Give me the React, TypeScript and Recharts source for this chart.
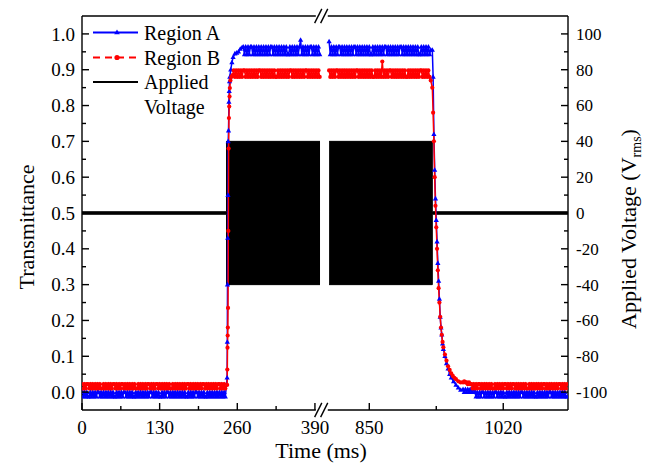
import React from 'react';
import { ComposedChart, Line, Area, XAxis, YAxis, ReferenceLine } from 'recharts';

const FONT = '"Liberation Serif", "Times New Roman", serif';
const BLUE = '#0000ff';
const RED = '#ff0000';

// ---- broken time axis: left segment in ms, right segment rescaled ----
const U_850 = 481.0;
const RIGHT_RATIO = 1.3193;
const U_MAX = 813.7;
const toU = (t: number) => (t < 600 ? t : U_850 + RIGHT_RATIO * (t - 850));

// ---- tick labels ----
const xMajorTimes = [0, 130, 260, 390, 850, 1020];
const xMinorTimes = [65, 195, 325, 935];
const yLeftMajor = [0, 0.1, 0.2, 0.3, 0.4, 0.5, 0.6, 0.7, 0.8, 0.9, 1.0];
const yLeftMinor = [0.05, 0.15, 0.25, 0.35, 0.45, 0.55, 0.65, 0.75, 0.85, 0.95];
const yRightMajor = [-100, -80, -60, -40, -20, 0, 20, 40, 60, 80, 100];
const yRightMinor = [-90, -70, -50, -30, -10, 10, 30, 50, 70, 90];

// ---- Region A (transmittance) ----
const aBaseLeft = [
  0, -0.013, 0, -0.013, 0, -0.013, -0.013, 0, -0.013, 0,
  -0.013, 0, -0.013, 0, 0, -0.013, 0, -0.013, 0, -0.013,
  0, -0.013, 0, -0.013, 0, -0.013, 0, -0.013, -0.013, 0,
  -0.013, 0, -0.013, 0, -0.013, 0, 0, -0.013, 0, -0.013,
  0, -0.013, 0, -0.013, -0.013, 0, -0.013, 0, -0.013, 0,
  -0.013, 0, -0.013, 0, -0.013, 0, -0.013, 0, 0, -0.013,
  0, -0.013, 0, -0.013, 0, -0.013, -0.013, 0, -0.013, 0,
  -0.013, 0, 0, -0.013, 0, -0.013, 0, -0.013, 0, -0.013,
  0, -0.013, 0, -0.013, 0, -0.013, 0, -0.013, -0.013, 0,
  -0.013, 0, -0.013, 0, -0.013, 0, 0, -0.013, 0, -0.013,
  0, -0.013, 0, -0.013, -0.013, 0, -0.013, 0, -0.013, 0,
  -0.013, 0, -0.013, 0, -0.013, 0, -0.013, 0, -0.013, 0,
  -0.013,
]; // t = 0..240 step 2
const aRiseT = [243, 243.3, 243.6, 244, 244.4, 244.8, 245.3, 246, 246.5, 247, 247.5, 249, 251, 253, 256, 259, 262, 265, 268];
const aRiseV = [0.04, 0.14, 0.3, 0.43, 0.55, 0.7, 0.73, 0.81, 0.84, 0.867, 0.88, 0.9, 0.92, 0.935, 0.945, 0.947, 0.95, 0.958, 0.962];
const aPlateauLeft = [
  0.964, 0.943, 0.964, 0.943, 0.964, 0.943, 0.964, 0.964, 0.943, 0.964,
  0.943, 0.964, 0.943, 0.964, 0.943, 0.964, 0.943, 0.964, 0.943, 0.964,
  0.943, 0.964, 0.943, 0.964, 0.964, 0.943, 0.964, 0.943, 0.964, 0.943,
  0.964, 0.943, 0.964, 0.943, 0.964, 0.943, 0.964, 0.943, 0.943, 0.964,
  0.943, 0.964, 0.943, 0.964, 0.943, 0.964, 0.943, 0.964, 0.983, 0.943,
  0.964, 0.943, 0.964, 0.943, 0.964, 0.943, 0.964, 0.964, 0.943, 0.964,
  0.943, 0.964, 0.943, 0.964, 0.943,
]; // t = 270..398 step 2
const aPlateauRight = [
  0.979, 0.943, 0.964, 0.943, 0.964, 0.943, 0.964, 0.943, 0.964, 0.964,
  0.943, 0.964, 0.943, 0.964, 0.943, 0.964, 0.943, 0.964, 0.943, 0.964,
  0.943, 0.964, 0.964, 0.943, 0.964, 0.943, 0.964, 0.943, 0.964, 0.943,
  0.964, 0.943, 0.964, 0.943, 0.964, 0.943, 0.943, 0.964, 0.943, 0.964,
  0.943, 0.964, 0.943, 0.964, 0.943, 0.964, 0.943, 0.964, 0.964, 0.943,
  0.964, 0.943, 0.964, 0.943, 0.964, 0.943, 0.964, 0.943, 0.964, 0.943,
  0.964, 0.964, 0.943, 0.964, 0.943, 0.964, 0.943, 0.964, 0.943, 0.964,
  0.943, 0.964, 0.943, 0.964, 0.943, 0.964, 0.943, 0.943, 0.964, 0.943,
  0.964, 0.943, 0.964, 0.943, 0.964, 0.943, 0.955,
]; // t = 799..928 step 1.5
const aFallT = [930, 931, 932, 933, 934, 935, 936, 937, 938, 939, 940, 941, 942, 943, 944, 946, 948, 950, 952, 954, 957, 960, 963, 966];
const aFallV = [0.955, 0.88, 0.72, 0.62, 0.54, 0.48, 0.42, 0.36, 0.31, 0.26, 0.21, 0.18, 0.16, 0.135, 0.12, 0.1, 0.08, 0.065, 0.05, 0.04, 0.03, 0.02, 0.012, 0.006];
const aTailRight = [
  0.008, 0, 0.008, 0, 0.008, 0, 0.008, 0, 0, 0.008,
  0, -0.013, 0, -0.013, 0, -0.013, 0, 0, -0.013, 0,
  -0.013, 0, -0.013, 0, -0.013, 0, -0.013, 0, 0, -0.013,
  0, -0.013, 0, -0.013, 0, -0.013, -0.013, 0, -0.013, 0,
  -0.013, 0, -0.013, 0, -0.013, 0, -0.013, 0, -0.013, 0,
  0, -0.013, 0, -0.013, 0, -0.013, 0, -0.013, 0, -0.013,
  0, -0.013, -0.013, 0, -0.013, 0, -0.013, 0, -0.013, 0,
  -0.013, 0, -0.013, 0, 0, -0.013, 0, -0.013, 0, -0.013,
  0, -0.013, 0, -0.013, 0, -0.013, 0, -0.013, -0.013,
]; // t = 969..1101 step 1.5

// ---- Region B (transmittance) ----
const bBaseLeft = [
  0.022, 0.01, 0.022, 0.01, 0.022, 0.022, 0.01, 0.022, 0.01, 0.022,
  0.01, 0.022, 0.01, 0.022, 0.01, 0.022, 0.01, 0.01, 0.022, 0.01,
  0.022, 0.01, 0.022, 0.01, 0.022, 0.01, 0.022, 0.022, 0.01, 0.022,
  0.01, 0.022, 0.01, 0.022, 0.022, 0.01, 0.022, 0.01, 0.022, 0.01,
  0.022, 0.01, 0.022, 0.01, 0.022, 0.01, 0.01, 0.022, 0.01, 0.022,
  0.01, 0.022, 0.01, 0.022, 0.01, 0.022, 0.022, 0.01, 0.022, 0.01,
  0.022, 0.01, 0.022, 0.022, 0.01, 0.022, 0.01, 0.022, 0.01, 0.022,
  0.01, 0.022, 0.01, 0.022, 0.01, 0.01, 0.022, 0.01, 0.022, 0.01,
  0.022, 0.01, 0.022, 0.01, 0.022, 0.01, 0.022, 0.01, 0.022, 0.022,
  0.01, 0.022, 0.01, 0.022, 0.01, 0.022, 0.01, 0.022, 0.01, 0.022,
  0.01, 0.022, 0.022, 0.01, 0.022, 0.01, 0.022, 0.01, 0.022, 0.01,
  0.022, 0.01, 0.022, 0.01, 0.022, 0.022, 0.01, 0.022, 0.01, 0.022,
  0.01,
]; // t = 0..240 step 2
const bRiseT = [243, 243.3, 243.6, 243.9, 244.2, 244.5, 245, 245.5, 246, 246.5, 247, 247.5, 248.5, 250, 252];
const bRiseV = [0.02, 0.063, 0.124, 0.158, 0.18, 0.235, 0.45, 0.68, 0.765, 0.797, 0.825, 0.849, 0.87, 0.88, 0.885];
const bPlateauLeft = [
  0.898, 0.88, 0.898, 0.88, 0.898, 0.88, 0.898, 0.88, 0.898, 0.898,
  0.88, 0.898, 0.88, 0.898, 0.88, 0.898, 0.88, 0.898, 0.88, 0.898,
  0.88, 0.898, 0.898, 0.88, 0.898, 0.88, 0.898, 0.88, 0.898, 0.88,
  0.898, 0.88, 0.898, 0.88, 0.898, 0.88, 0.88, 0.898, 0.88, 0.898,
  0.88, 0.898, 0.88, 0.898, 0.88, 0.898, 0.88, 0.898, 0.898, 0.88,
  0.898, 0.88, 0.898, 0.88, 0.898, 0.88, 0.898, 0.88, 0.898, 0.88,
  0.898, 0.898, 0.88, 0.898, 0.88, 0.898, 0.88, 0.898, 0.88, 0.898,
  0.88, 0.898, 0.88,
]; // t = 254..398 step 2
const bPlateauRight = [
  0.898, 0.88, 0.898, 0.88, 0.898, 0.88, 0.898, 0.898, 0.88, 0.898,
  0.88, 0.898, 0.88, 0.898, 0.88, 0.898, 0.88, 0.898, 0.88, 0.898,
  0.88, 0.898, 0.88, 0.898, 0.898, 0.88, 0.898, 0.88, 0.898, 0.88,
  0.898, 0.88, 0.898, 0.88, 0.898, 0.88, 0.898, 0.88, 0.88, 0.898,
  0.88, 0.898, 0.88, 0.898, 0.88, 0.923, 0.88, 0.898, 0.88, 0.898,
  0.88, 0.898, 0.898, 0.88, 0.898, 0.88, 0.898, 0.88, 0.898, 0.88,
  0.898, 0.88, 0.898, 0.88, 0.898, 0.88, 0.88, 0.898, 0.88, 0.898,
  0.88, 0.898, 0.88, 0.898, 0.88, 0.898, 0.88, 0.898, 0.898, 0.88,
  0.898, 0.88, 0.898, 0.88, 0.898, 0.88, 0.87,
]; // t = 799..928 step 1.5
const bFallT = [930, 931, 932, 933, 934, 935, 936, 937, 938, 939, 940, 941, 942, 943, 944, 946, 948, 950, 952, 954, 956, 958, 960, 963, 966];
const bFallV = [0.85, 0.78, 0.7, 0.6, 0.52, 0.46, 0.4, 0.34, 0.29, 0.25, 0.21, 0.18, 0.16, 0.14, 0.125, 0.105, 0.088, 0.072, 0.062, 0.052, 0.045, 0.04, 0.036, 0.03, 0.027];
const bTailRight = [
  0.027, 0.03, 0.027, 0.027, 0.022, 0.027, 0.022, 0.022, 0.01, 0.022,
  0.01, 0.022, 0.01, 0.022, 0.022, 0.01, 0.022, 0.01, 0.022, 0.01,
  0.022, 0.01, 0.022, 0.01, 0.022, 0.01, 0.01, 0.022, 0.01, 0.022,
  0.01, 0.022, 0.01, 0.022, 0.01, 0.022, 0.022, 0.01, 0.022, 0.01,
  0.022, 0.01, 0.022, 0.022, 0.01, 0.022, 0.01, 0.022, 0.01, 0.022,
  0.01, 0.022, 0.01, 0.022, 0.01, 0.01, 0.022, 0.01, 0.022, 0.01,
  0.022, 0.01, 0.022, 0.01, 0.022, 0.01, 0.022, 0.01, 0.022, 0.022,
  0.01, 0.022, 0.01, 0.022, 0.01, 0.022, 0.01, 0.022, 0.01, 0.022,
  0.01, 0.022, 0.022, 0.01, 0.022, 0.01, 0.022, 0.01, 0.022,
]; // t = 969..1101 step 1.5

// ---- Applied voltage envelope (Vrms square wave, min / max) ----
const vLeftT = [0, 242, 242, 398.5];
const vLeftMin = [-0.7, -0.7, -40, -40];
const vLeftMax = [0.7, 0.7, 40, 40];
const vRightT = [799, 930, 930, 1102];
const vRightMin = [-40, -40, -0.7, -0.7];
const vRightMax = [40, 40, 0.7, 0.7];

type P = { u: number; y: number | null };
const grid = (start: number, step: number, vals: number[]) => vals.map((v, i) => ({ t: start + i * step, v }));
const zip = (ts: number[], vs: number[]) => ts.map((t, i) => ({ t, v: vs[i] }));
const GAP = { t: 600, v: null as number | null };
const toPts = (arr: { t: number; v: number | null }[]): P[] => arr.map((p) => ({ u: toU(p.t), y: p.v }));

const seriesA = toPts([
  ...grid(0, 2, aBaseLeft), ...zip(aRiseT, aRiseV), ...grid(270, 2, aPlateauLeft), GAP,
  ...grid(799, 1.5, aPlateauRight), ...zip(aFallT, aFallV), ...grid(969, 1.5, aTailRight),
]);
const seriesB = toPts([
  ...grid(0, 2, bBaseLeft), ...zip(bRiseT, bRiseV), ...grid(254, 2, bPlateauLeft), GAP,
  ...grid(799, 1.5, bPlateauRight), ...zip(bFallT, bFallV), ...grid(969, 1.5, bTailRight),
]);
const voltLeft = vLeftT.map((t, i) => ({ u: toU(t), v: [vLeftMin[i], vLeftMax[i]] }));
const voltRight = vRightT.map((t, i) => ({ u: toU(t), v: [vRightMin[i], vRightMax[i]] }));

const xTickInfo = [
  ...xMajorTimes.map((t) => ({ u: toU(t), label: String(t), major: true })),
  ...xMinorTimes.map((t) => ({ u: toU(t), label: '', major: false })),
];
const near = (a: number, b: number) => Math.abs(a - b) < 1e-6;

const AXIS_W = 1.4;

const XTick = (p: any) => {
  const { x, y, payload } = p;
  const info = xTickInfo.find((d) => near(d.u, payload.value));
  const major = info ? info.major : false;
  return (
    <g>
      <line x1={x} x2={x} y1={y} y2={y - (major ? 7 : 4)} stroke="#000" strokeWidth={AXIS_W} />
      {major && (
        <text x={x} y={y + 24} textAnchor="middle" fontSize={19} fontFamily={FONT} fill="#000">
          {info!.label}
        </text>
      )}
    </g>
  );
};

const YLeftTick = (p: any) => {
  const { x, y, payload } = p;
  const v = payload.value as number;
  const major = yLeftMajor.some((m) => near(m, v));
  return (
    <g>
      <line x1={x} x2={x + (major ? 7 : 4)} y1={y} y2={y} stroke="#000" strokeWidth={AXIS_W} />
      {major && (
        <text x={x - 7} y={y} dy="0.35em" textAnchor="end" fontSize={19} fontFamily={FONT} fill="#000">
          {v.toFixed(1)}
        </text>
      )}
    </g>
  );
};

const YRightTick = (p: any) => {
  const { x, y, payload } = p;
  const v = payload.value as number;
  const major = yRightMajor.some((m) => near(m, v));
  return (
    <g>
      <line x1={x} x2={x - (major ? 7 : 4)} y1={y} y2={y} stroke="#000" strokeWidth={AXIS_W} />
      {major && (
        <text x={x + 8} y={y} dy="0.35em" textAnchor="start" fontSize={17} fontFamily={FONT} fill="#000">
          {String(v)}
        </text>
      )}
    </g>
  );
};

const TriDot = (p: any) => {
  const { cx, cy, index } = p;
  if (cx == null || cy == null || p.value == null) return <g key={`ta-${index}`} />;
  return <path key={`ta-${index}`} d={`M${cx},${cy - 2.8}L${cx + 2.6},${cy + 1.8}L${cx - 2.6},${cy + 1.8}Z`} fill={BLUE} />;
};
const CircDot = (p: any) => {
  const { cx, cy, index } = p;
  if (cx == null || cy == null || p.value == null) return <g key={`cb-${index}`} />;
  return <circle key={`cb-${index}`} cx={cx} cy={cy} r={2.1} fill={RED} />;
};

// axis break (in axis units)
const BREAK_U = [391.5, 411.5];
const SLASHES = [[389.5, 401.5], [399.5, 411.5]];
const Y_BOT = -0.05;
const Y_TOP = 1.05;
const SLASH_DY = 0.02;

export default function App() {
  const xTicks = xTickInfo.map((d) => d.u).sort((a, b) => a - b);
  const frameSegs: [number, number, number][] = [
    [0, BREAK_U[0], Y_BOT],
    [BREAK_U[1], U_MAX, Y_BOT],
    [0, BREAK_U[0], Y_TOP],
    [BREAK_U[1], U_MAX, Y_TOP],
  ];
  return (
    <div style={{ position: 'absolute', left: 0, top: 0, width: 653, height: 465, background: '#fff' }}>
      <ComposedChart width={653} height={465} margin={{ top: 16, right: 0, bottom: 0, left: 0 }}>
        <XAxis
          type="number"
          dataKey="u"
          domain={[0, U_MAX]}
          ticks={xTicks}
          interval={0}
          tick={(p: any) => <XTick {...p} />}
          tickLine={false}
          axisLine={false}
          tickSize={0}
          tickMargin={0}
          height={55}
          allowDataOverflow
        />
        <YAxis
          yAxisId="left"
          orientation="left"
          type="number"
          domain={[-0.05, 1.05]}
          ticks={[...yLeftMajor, ...yLeftMinor]}
          interval={0}
          width={82}
          tick={(p: any) => <YLeftTick {...p} />}
          tickLine={false}
          axisLine={{ stroke: '#000', strokeWidth: AXIS_W }}
          tickSize={0}
          tickMargin={0}
          allowDataOverflow
        />
        <YAxis
          yAxisId="right"
          orientation="right"
          type="number"
          domain={[-110, 110]}
          ticks={[...yRightMajor, ...yRightMinor]}
          interval={0}
          width={85}
          tick={(p: any) => <YRightTick {...p} />}
          tickLine={false}
          axisLine={{ stroke: '#000', strokeWidth: AXIS_W }}
          tickSize={0}
          tickMargin={0}
          allowDataOverflow
        />
        <Line
          yAxisId="left"
          data={seriesA}
          dataKey="y"
          type="linear"
          stroke={BLUE}
          strokeWidth={1.5}
          dot={TriDot}
          activeDot={false}
          connectNulls={false}
          isAnimationActive={false}
        />
        <Line
          yAxisId="left"
          data={seriesB}
          dataKey="y"
          type="linear"
          stroke={RED}
          strokeWidth={1.5}
          dot={CircDot}
          activeDot={false}
          connectNulls={false}
          isAnimationActive={false}
        />
        <Area
          yAxisId="right"
          data={voltLeft}
          dataKey="v"
          type="linear"
          stroke="#000"
          strokeWidth={1}
          fill="#000"
          fillOpacity={1}
          dot={false}
          activeDot={false}
          isAnimationActive={false}
        />
        <Area
          yAxisId="right"
          data={voltRight}
          dataKey="v"
          type="linear"
          stroke="#000"
          strokeWidth={1}
          fill="#000"
          fillOpacity={1}
          dot={false}
          activeDot={false}
          isAnimationActive={false}
        />
        {frameSegs.map(([a, b, y], i) => (
          <ReferenceLine
            key={`f${i}`}
            yAxisId="left"
            segment={[{ x: a, y }, { x: b, y }]}
            stroke="#000"
            strokeWidth={AXIS_W}
            ifOverflow="visible"
          />
        ))}
        {[Y_BOT, Y_TOP].flatMap((y) =>
          SLASHES.map(([a, b], i) => (
            <ReferenceLine
              key={`s${y}-${i}`}
              yAxisId="left"
              segment={[{ x: a, y: y - SLASH_DY }, { x: b, y: y + SLASH_DY }]}
              stroke="#000"
              strokeWidth={AXIS_W}
              ifOverflow="visible"
            />
          ))
        )}
      </ComposedChart>
      <svg width={653} height={465} style={{ position: 'absolute', left: 0, top: 0, pointerEvents: 'none' }}>
        <g fontFamily={FONT} fill="#000">
          <line x1={93} x2={138} y1={32.5} y2={32.5} stroke={BLUE} strokeWidth={2} />
          <path d="M117,29.5L119.8,34.3L114.2,34.3Z" fill={BLUE} />
          <text x={144} y={39.5} fontSize={20}>Region A</text>
          <line x1={93} x2={138} y1={57.5} y2={57.5} stroke={RED} strokeWidth={2} strokeDasharray="7 5" />
          <circle cx={117} cy={57.5} r={2.6} fill={RED} />
          <text x={144} y={64.5} fontSize={20}>Region B</text>
          <line x1={93} x2={138} y1={82} y2={82} stroke="#000" strokeWidth={2} />
          <text x={144} y={89} fontSize={20}>Applied</text>
          <text x={144} y={113.5} fontSize={20}>Voltage</text>
          <text x={34} y={227} fontSize={22} textAnchor="middle" transform="rotate(-90 34 227)">Transmittance</text>
          <text x={636} y={229} fontSize={22} textAnchor="middle" transform="rotate(-90 636 229)">
            Applied Voltage (V<tspan fontSize={14} dy={5}>rms</tspan><tspan dy={-5}>)</tspan>
          </text>
          <text x={321} y={458} fontSize={22} textAnchor="middle">Time (ms)</text>
        </g>
      </svg>
    </div>
  );
}
